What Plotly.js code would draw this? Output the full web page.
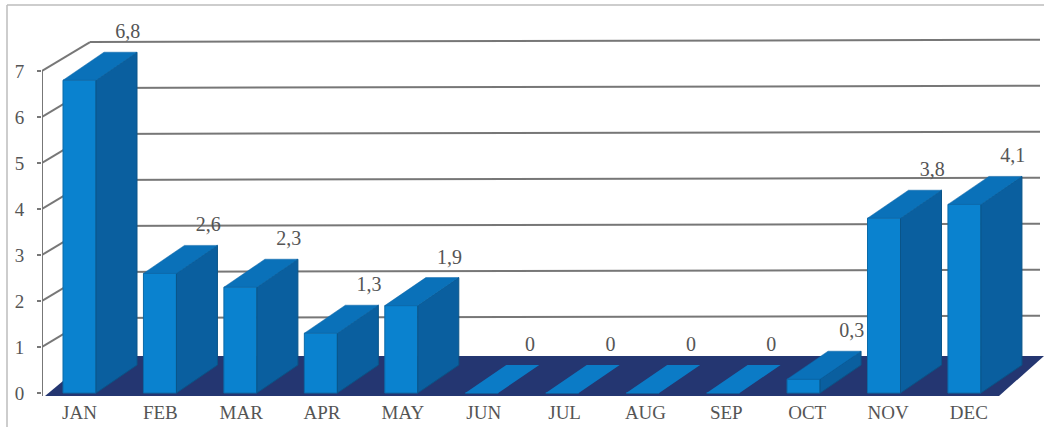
<!DOCTYPE html>
<html><head><meta charset="utf-8">
<script src="https://cdn.plot.ly/plotly-3.0.1.min.js"></script>
<style>html,body{margin:0;padding:0;background:#fff}#c{width:1044px;height:427px}</style>
</head><body><div id="c"></div>
<script>
const months = ['JAN','FEB','MAR','APR','MAY','JUN','JUL','AUG','SEP','OCT','NOV','DEC'];
const values = [6.8,2.6,2.3,1.3,1.9,0,0,0,0,0.3,3.8,4.1];
const yTicks = [0,1,2,3,4,5,6,7];

const W = 1044, H = 427, mL = 42, mB = 31;
const unitX = 80.45, unitY = 46;
const zeroPx = 393, floorFrontPx = H-mB;
const xRange = [(mL-79.5)/unitX, (W-79.5)/unitX];
const yRange = [(zeroPx-floorFrontPx)/unitY, zeroPx/unitY];
const barW = 33/unitX, depthX = 41/unitX, depthY = 28/unitY;
const wallX = 48/unitX, wallY = 0.63;
const left = xRange[0];
const axisFont = {family:'"Liberation Serif", serif', size:19, color:'#555'};
const valueFont = {family:'"Liberation Serif", serif', size:20, color:'#555'};
const gridCol = '#777';

const idx = months.map((_,i)=>i);
const faces = {top:{x:[],y:[]}, side:{x:[],y:[]}, flat:{x:[],y:[]}};
function poly(f, xs, ys){ f.x.push(...xs, xs[0], null); f.y.push(...ys, ys[0], null); }
idx.forEach(i=>{
  const v = values[i], a = i-barW/2, b = i+barW/2;
  poly(v>0 ? faces.top : faces.flat, [a,b,b+depthX,a+depthX], [v,v,v+depthY,v+depthY]);
  if (v>0) poly(faces.side, [b,b+depthX,b+depthX,b], [0,depthY,v+depthY,v]);
});

const shapes = [];
const line = (x0,y0,x1,y1,w=2,c=gridCol)=>shapes.push({type:'line',layer:'below',x0,y0,x1,y1,line:{color:c,width:w}});
// frame of the scan
const px = p=>(p-mL)/(W-mL), py = p=>(H-mB-p)/(H-mB);
shapes.push({type:'line',xref:'paper',yref:'paper',layer:'below',x0:px(7),x1:1,y0:py(5),y1:py(5),line:{color:'#bdbdbd',width:1.5}});
shapes.push({type:'line',xref:'paper',yref:'paper',layer:'below',x0:px(7),x1:px(7),y0:py(5),y1:py(H),line:{color:'#bdbdbd',width:1.5}});
// walls
const gridEnd = (1040-79.5)/unitX, tilt = 0.05;
yTicks.slice(1).forEach(v=>{
  line(left, v, left+wallX, v+wallY);
  line(left+wallX, v+wallY, gridEnd, v+wallY+tilt);
});
line(left, yRange[0], left, 7);
// floor
const floorBack = (zeroPx-356)/unitY;
shapes.push({type:'path',layer:'below',line:{width:0},fillcolor:'#243671',
  path:`M ${(45-79.5)/unitX} ${yRange[0]} L ${(999-79.5)/unitX} ${yRange[0]} L ${xRange[1]} ${floorBack} L ${(93-79.5)/unitX} ${floorBack} Z`});

const data = [
 {type:'bar',x:idx,y:values,width:barW,marker:{color:'#0a82cf',line:{color:'#0a6aa8',width:1}},hoverinfo:'skip'},
 {type:'scatter',mode:'lines',x:faces.side.x,y:faces.side.y,fill:'toself',fillcolor:'#0a5f9f',line:{color:'#0a5488',width:1},hoverinfo:'skip'},
 {type:'scatter',mode:'lines',x:faces.top.x,y:faces.top.y,fill:'toself',fillcolor:'#0a71b9',line:{color:'#0a64a6',width:0.5},hoverinfo:'skip'},
 {type:'scatter',mode:'lines',x:faces.flat.x,y:faces.flat.y,fill:'toself',fillcolor:'#0b7bc6',line:{width:0},hoverinfo:'skip'},
 {type:'scatter',mode:'text',x:idx.map(i=>i+0.6),y:values.map(v=>v+1.02),
  text:values.map(v=>String(v).replace('.',',')),textposition:'middle center',textfont:valueFont,cliponaxis:false,hoverinfo:'skip'}
];
const layout = {
  width:W,height:H,margin:{l:mL,r:0,t:0,b:mB,pad:0},
  paper_bgcolor:'#fff',plot_bgcolor:'rgba(0,0,0,0)',showlegend:false,shapes,
  barmode:'overlay',
  xaxis:{range:xRange,tickmode:'array',tickvals:idx.map(i=>i*1.005),ticktext:months,showgrid:false,zeroline:false,showline:false,ticks:'',tickfont:axisFont,ticklabelstandoff:3},
  yaxis:{range:yRange,tickmode:'array',tickvals:yTicks,ticktext:yTicks.map(String),showgrid:false,zeroline:false,showline:false,ticks:'outside',ticklen:4,tickcolor:gridCol,tickwidth:2,tickfont:axisFont,ticklabelstandoff:9}
};
Plotly.newPlot('c',data,layout,{displayModeBar:false,staticPlot:true});
</script></body></html>
